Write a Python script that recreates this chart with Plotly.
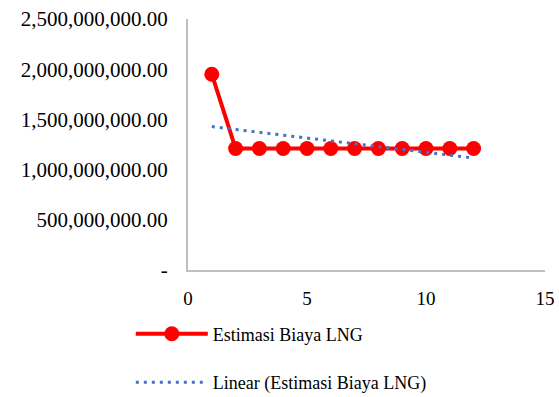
import numpy as np
import plotly.graph_objects as go

x_vals = [1, 2, 3, 4, 5, 6, 7, 8, 9, 10, 11, 12]
biaya_lng = [1.95e9, 1.21e9, 1.21e9, 1.21e9, 1.21e9, 1.21e9, 1.21e9, 1.21e9, 1.21e9, 1.21e9, 1.21e9, 1.21e9]
y_tickvals = [0, 5e8, 1e9, 1.5e9, 2e9, 2.5e9]
y_ticktext = ["-", "500,000,000.00", "1,000,000,000.00", "1,500,000,000.00", "2,000,000,000.00", "2,500,000,000.00"]
x_tickvals = [0, 5, 10, 15]
series_name = "Estimasi Biaya LNG"
trend_name = "Linear (Estimasi Biaya LNG)"

# linear trendline (least squares, as in the spreadsheet)
slope, intercept = np.polyfit(x_vals, biaya_lng, 1)
trend = [slope * v + intercept for v in x_vals]

FONT = "Liberation Serif, Times New Roman, serif"

fig = go.Figure()
fig.add_trace(go.Scatter(
    x=x_vals, y=biaya_lng, mode="lines+markers", name=series_name,
    line=dict(color="#FF0000", width=4),
    marker=dict(color="#FF0000", size=15, line=dict(width=0)),
    legendgroup="a",
))
fig.add_trace(go.Scatter(
    x=x_vals, y=trend, mode="lines", name=trend_name,
    line=dict(color="#4472C4", width=3, dash="3px,5px"),
    legendgroup="b",
))

fig.update_layout(
    width=559, height=397,
    margin=dict(l=188, r=14, t=19, b=127, autoexpand=False),
    paper_bgcolor="white", plot_bgcolor="white",
    font=dict(family=FONT, size=18, color="#000000"),
    showlegend=True,
    legend=dict(
        xref="container", yref="container",
        x=0.234, xanchor="left", y=0.205, yanchor="top",
        orientation="v", itemwidth=72, tracegroupgap=22,
        font=dict(family=FONT, size=18, color="#000000"),
        bgcolor="rgba(0,0,0,0)",
    ),
    xaxis=dict(
        range=[0, 15], tickvals=x_tickvals, showgrid=False, zeroline=False,
        showline=True, linecolor="#BFBFBF", linewidth=2, ticks="",
        ticklabelstandoff=10, tickfont=dict(size=19),
    ),
    yaxis=dict(
        range=[0, 2.5e9], tickvals=y_tickvals, ticktext=y_ticktext,
        showgrid=False, zeroline=False,
        showline=True, linecolor="#BFBFBF", linewidth=2, ticks="",
        ticklabelstandoff=14, tickfont=dict(size=21),
    ),
)

fig.write_html(
    "out.html",
    config={"displayModeBar": False},
    post_script="document.body.style.margin='0';document.body.style.overflow='hidden';",
)
